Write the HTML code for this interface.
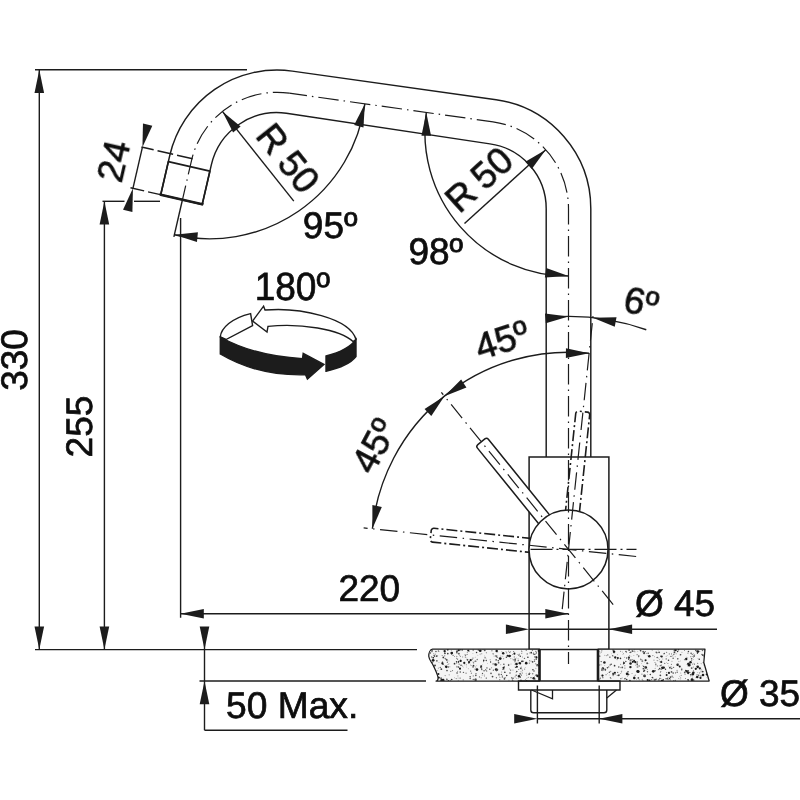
<!DOCTYPE html>
<html lang="en"><head><meta charset="utf-8"><title>Faucet dimension drawing</title>
<style>
html,body{margin:0;padding:0;background:#fff;}
body{width:800px;height:800px;overflow:hidden;font-family:"Liberation Sans",sans-serif;}
svg{display:block;}
svg text{-webkit-font-smoothing:antialiased;text-rendering:geometricPrecision;}
</style></head><body>
<svg width="800" height="800" viewBox="0 0 800 800" font-family="'Liberation Sans', sans-serif" shape-rendering="geometricPrecision">
<rect width="800" height="800" fill="#ffffff"/>
<line x1="35" y1="69.7" x2="247" y2="69.7" stroke="#1c1c1c" stroke-width="1.4" stroke-linecap="butt"/>
<line x1="39.3" y1="69.7" x2="39.3" y2="649.6" stroke="#1c1c1c" stroke-width="1.4" stroke-linecap="butt"/>
<polygon points="39.3,69.7 44.1,92.9 34.5,92.9" fill="#1c1c1c" stroke="none" stroke-width="0"/>
<polygon points="39.3,649.6 34.5,626.4 44.1,626.4" fill="#1c1c1c" stroke="none" stroke-width="0"/>
<line x1="35" y1="649.6" x2="417" y2="649.6" stroke="#1c1c1c" stroke-width="1.4" stroke-linecap="butt"/>
<line x1="102.5" y1="201.3" x2="124.5" y2="201.3" stroke="#1c1c1c" stroke-width="1.4" stroke-linecap="butt"/>
<line x1="134" y1="201.3" x2="160" y2="201.3" stroke="#1c1c1c" stroke-width="1.4" stroke-linecap="butt"/>
<line x1="104.4" y1="201.3" x2="104.4" y2="649.6" stroke="#1c1c1c" stroke-width="1.4" stroke-linecap="butt"/>
<polygon points="104.4,201.3 109.2,224.5 99.6,224.5" fill="#1c1c1c" stroke="none" stroke-width="0"/>
<polygon points="104.4,649.6 99.6,626.4 109.2,626.4" fill="#1c1c1c" stroke="none" stroke-width="0"/>
<line x1="204.5" y1="627" x2="204.5" y2="730.2" stroke="#1c1c1c" stroke-width="1.4" stroke-linecap="butt"/>
<polygon points="204.5,649.6 199.7,626.4 209.3,626.4" fill="#1c1c1c" stroke="none" stroke-width="0"/>
<polygon points="204.5,681 209.3,704.2 199.7,704.2" fill="#1c1c1c" stroke="none" stroke-width="0"/>
<line x1="199.5" y1="681" x2="426" y2="681" stroke="#1c1c1c" stroke-width="1.4" stroke-linecap="butt"/>
<line x1="204.5" y1="730.2" x2="347.5" y2="730.2" stroke="#1c1c1c" stroke-width="1.4" stroke-linecap="butt"/>
<line x1="180.6" y1="613.8" x2="568.5" y2="613.8" stroke="#1c1c1c" stroke-width="1.4" stroke-linecap="butt"/>
<polygon points="180.6,613.8 203.8,609 203.8,618.6" fill="#1c1c1c" stroke="none" stroke-width="0"/>
<polygon points="568.5,613.8 545.3,618.6 545.3,609" fill="#1c1c1c" stroke="none" stroke-width="0"/>
<path d="M160.71 194.74L169.82 155.28A110 110 0 0 1 292.31 71.1L496.11 99.74A110 110 0 0 1 590.8 208.67L590.8 457" fill="none" stroke="#1c1c1c" stroke-width="1.45" stroke-linejoin="round" />
<path d="M202.22 204.33L211.33 164.86A67.4 67.4 0 0 1 286.38 113.28L489.9 143.9A65.4 65.4 0 0 1 546.2 208.67L546.2 457" fill="none" stroke="#1c1c1c" stroke-width="1.45" stroke-linejoin="round" />
<path d="M168.36 161.61L160.71 194.74L202.22 204.33L209.87 171.2Z" fill="none" stroke="#1c1c1c" stroke-width="1.7" stroke-linejoin="round" />
<path d="M161.05 193.28L160.71 194.74L202.22 204.33L202.55 202.86" fill="none" stroke="#1c1c1c" stroke-width="2.6" stroke-linejoin="round" />
<line x1="182.44" y1="199.76" x2="173.89" y2="236.79" stroke="#1c1c1c" stroke-width="1.4" stroke-linecap="butt"/>
<line x1="180.6" y1="218" x2="180.6" y2="617.8" stroke="#1c1c1c" stroke-width="1.4" stroke-linecap="butt"/>
<line x1="192.61" y1="158.8" x2="141.46" y2="146.99" stroke="#1c1c1c" stroke-width="1.4" stroke-dasharray="16 4" stroke-linecap="butt"/>
<line x1="162.66" y1="195.19" x2="130.5" y2="187.77" stroke="#1c1c1c" stroke-width="1.4" stroke-dasharray="15 4" stroke-linecap="butt"/>
<line x1="142.43" y1="147.21" x2="132.94" y2="188.33" stroke="#1c1c1c" stroke-width="1.4" stroke-linecap="butt"/>
<polygon points="142.43,147.21 142.97,123.53 152.33,125.69" fill="#1c1c1c" stroke="none" stroke-width="0"/>
<polygon points="132.94,188.33 132.4,212.02 123.04,209.86" fill="#1c1c1c" stroke="none" stroke-width="0"/>
<line x1="222.41" y1="111.39" x2="293.81" y2="201.16" stroke="#1c1c1c" stroke-width="1.4" stroke-linecap="butt"/>
<polygon points="222.41,111.39 240.6,126.56 233.09,132.54" fill="#1c1c1c" stroke="none" stroke-width="0"/>
<line x1="545.77" y1="149.76" x2="464.5" y2="223.45" stroke="#1c1c1c" stroke-width="1.4" stroke-linecap="butt"/>
<polygon points="545.77,149.76 531.81,168.9 525.36,161.79" fill="#1c1c1c" stroke="none" stroke-width="0"/>
<path d="M364.9 103.82A156.8 156.8 0 0 1 174.35 234.78" fill="none" stroke="#1c1c1c" stroke-width="1.4" stroke-linejoin="round" />
<polygon points="364.9,103.82 363.45,127.46 354.18,124.95" fill="#1c1c1c" stroke="none" stroke-width="0"/>
<polygon points="174.35,234.78 197.92,232.34 196.95,241.89" fill="#1c1c1c" stroke="none" stroke-width="0"/>
<path d="M426.3 112.45A143.6 143.6 0 0 0 568.5 276.03" fill="none" stroke="#1c1c1c" stroke-width="1.4" stroke-linejoin="round" />
<polygon points="426.3,112.45 431.04,135.66 421.44,135.63" fill="#1c1c1c" stroke="none" stroke-width="0"/>
<polygon points="568.5,276.03 544.86,277.61 546.18,268.1" fill="#1c1c1c" stroke="none" stroke-width="0"/>
<path d="M529.1 649.6V457H608.9V649.6Z" fill="none" stroke="#1c1c1c" stroke-width="1.5" stroke-linejoin="miter" />
<path d="M532.93 538.62L433.98 528.22A2.5 2.5 0 0 0 431.23 530.45L430.29 539.4A2.5 2.5 0 0 0 432.51 542.15L531.47 552.55" fill="none" stroke="#1c1c1c" stroke-width="1.6" stroke-dasharray="11 3 2 3" stroke-linejoin="round" />
<path d="M579.28 513.83L589.68 414.88A2.5 2.5 0 0 0 587.45 412.13L578.5 411.19A2.5 2.5 0 0 0 575.75 413.41L565.35 512.37" fill="none" stroke="#1c1c1c" stroke-width="1.6" stroke-dasharray="11 3 2 3" stroke-linejoin="round" />
<path d="M550.97 516.63L488.35 439.3A2.5 2.5 0 0 0 484.84 438.93L477.84 444.6A2.5 2.5 0 0 0 477.47 448.11L540.09 525.44" fill="#fff" stroke="#1c1c1c" stroke-width="1.5" stroke-linejoin="round" />
<circle cx="568.5" cy="549.4" r="39.5" fill="#fff" stroke="#1c1c1c" stroke-width="1.5"/>
<path d="M182.44 199.76L191.55 160.3A87.7 87.7 0 0 1 289.21 93.18" fill="none" stroke="#1c1c1c" stroke-width="1.2" stroke-dasharray="20.5 5 1.5 5" stroke-linejoin="round" stroke-dashoffset="6"/>
<path d="M289.21 93.18L493.01 121.82" fill="none" stroke="#1c1c1c" stroke-width="1.2" stroke-dasharray="20.5 5 1.5 5" stroke-linejoin="round" stroke-dashoffset="2.6"/>
<path d="M493.01 121.82A87.7 87.7 0 0 1 568.5 208.67L568.5 664" fill="none" stroke="#1c1c1c" stroke-width="1.2" stroke-dasharray="20.5 5 1.5 5" stroke-linejoin="round" stroke-dashoffset="7.4"/>
<line x1="636.13" y1="556.51" x2="363.63" y2="527.87" stroke="#1c1c1c" stroke-width="1.2" stroke-dasharray="17.5 5.5 1.5 5.5" stroke-linecap="butt"/>
<line x1="613.18" y1="604.58" x2="441.38" y2="392.42" stroke="#1c1c1c" stroke-width="1.2" stroke-dasharray="17.5 5.5 1.5 5.5" stroke-linecap="butt"/>
<line x1="562.23" y1="609.07" x2="593.38" y2="312.7" stroke="#1c1c1c" stroke-width="1.2" stroke-dasharray="17.5 5.5 1.5 5.5" stroke-linecap="butt"/>
<line x1="530.5" y1="549.4" x2="636.5" y2="549.4" stroke="#1c1c1c" stroke-width="1.1" stroke-dasharray="22 4 2 4" stroke-linecap="butt"/>
<path d="M372.38 528.79A197.2 197.2 0 0 1 589.11 353.28" fill="none" stroke="#1c1c1c" stroke-width="1.4" stroke-linejoin="round" />
<polygon points="372.38,528.79 372.4,505.1 381.8,507.05" fill="#1c1c1c" stroke="none" stroke-width="0"/>
<polygon points="444.4,396.15 431.29,415.88 424.54,409.06" fill="#1c1c1c" stroke="none" stroke-width="0"/>
<polygon points="444.4,396.15 461.16,379.41 466.43,387.43" fill="#1c1c1c" stroke="none" stroke-width="0"/>
<polygon points="589.11,353.28 565.89,357.97 565.94,348.37" fill="#1c1c1c" stroke="none" stroke-width="0"/>
<path d="M547.38 317.36A233 233 0 0 1 646.28 329.76" fill="none" stroke="#1c1c1c" stroke-width="1.4" stroke-linejoin="round" />
<polygon points="568.5,316.4 545.79,323.14 544.98,313.58" fill="#1c1c1c" stroke="none" stroke-width="0"/>
<polygon points="592.86,317.68 616.54,317.33 614.74,326.76" fill="#1c1c1c" stroke="none" stroke-width="0"/>
<line x1="529.1" y1="629.3" x2="717" y2="629.3" stroke="#1c1c1c" stroke-width="1.4" stroke-linecap="butt"/>
<polygon points="529.1,629.3 505.9,634.1 505.9,624.5" fill="#1c1c1c" stroke="none" stroke-width="0"/>
<polygon points="608.9,629.3 632.1,624.5 632.1,634.1" fill="#1c1c1c" stroke="none" stroke-width="0"/>
<clipPath id="cl"><path d="M539.5 649.2H432.6C430 649.5 428.6 653 428.8 656.5C429.2 660 431.5 662 433 665C435 669 437.5 674 438 677.5C438.2 679.5 437.5 681 436 681H539.5Z"/></clipPath><clipPath id="cr"><path d="M598.0 649.2H705L703.8 662.5L709.2 681H598.0Z"/></clipPath>
<path d="M539.5 649.2H432.6C430 649.5 428.6 653 428.8 656.5C429.2 660 431.5 662 433 665C435 669 437.5 674 438 677.5C438.2 679.5 437.5 681 436 681H539.5Z" fill="#f5f5f5"/><path d="M598.0 649.2H705L703.8 662.5L709.2 681H598.0Z" fill="#f5f5f5"/>
<g clip-path="url(#cl)" fill="#1c1c1c"><circle cx="464.78" cy="654.34" r="0.42" fill="#777"/><circle cx="469.41" cy="651.42" r="0.41" fill="#666"/><circle cx="475.21" cy="657.16" r="0.42" fill="#777"/><circle cx="533.69" cy="669.4" r="0.42" fill="#666"/><circle cx="434.48" cy="656.54" r="0.44" fill="#666"/><circle cx="444.94" cy="653.3" r="0.84" fill="#333"/><circle cx="440.39" cy="667.54" r="0.63" fill="#444"/><circle cx="435.94" cy="651.47" r="0.8" fill="#555"/><circle cx="514.88" cy="664.22" r="0.51" fill="#999"/><circle cx="516.78" cy="671.55" r="0.77" fill="#444"/><circle cx="483.71" cy="660.39" r="0.78" fill="#333"/><circle cx="442.05" cy="662.73" r="0.45" fill="#666"/><circle cx="475.6" cy="679.81" r="1.22" fill="#1a1a1a"/><circle cx="516.19" cy="675.3" r="0.71" fill="#555"/><circle cx="493.08" cy="663.92" r="0.68" fill="#666"/><circle cx="506.02" cy="651.64" r="0.49" fill="#666"/><circle cx="460.45" cy="661.71" r="0.41" fill="#666"/><circle cx="468.28" cy="668.78" r="0.47" fill="#888"/><circle cx="443.29" cy="657.38" r="0.86" fill="#333"/><circle cx="447.38" cy="662.21" r="0.64" fill="#555"/><circle cx="524.47" cy="658.34" r="0.71" fill="#555"/><circle cx="534.83" cy="654.34" r="0.67" fill="#333"/><circle cx="430.33" cy="675.7" r="0.68" fill="#333"/><circle cx="475.29" cy="661.19" r="0.69" fill="#777"/><circle cx="479.46" cy="676.95" r="0.6" fill="#666"/><circle cx="472.99" cy="661.98" r="0.52" fill="#999"/><circle cx="436.44" cy="656.16" r="0.7" fill="#333"/><circle cx="440.31" cy="667.4" r="0.68" fill="#777"/><circle cx="436.77" cy="656.13" r="0.79" fill="#555"/><circle cx="495.55" cy="664.49" r="1.2" fill="#1a1a1a"/><circle cx="537.05" cy="664.68" r="0.64" fill="#444"/><circle cx="466.86" cy="657.91" r="0.45" fill="#777"/><circle cx="451.68" cy="679.49" r="0.81" fill="#333"/><circle cx="512.77" cy="658.96" r="0.43" fill="#888"/><circle cx="486.28" cy="678.12" r="0.67" fill="#444"/><circle cx="515.09" cy="659.95" r="0.84" fill="#333"/><circle cx="518.07" cy="675.3" r="0.47" fill="#666"/><circle cx="468.29" cy="650.51" r="1.11" fill="#1a1a1a"/><circle cx="457.64" cy="671.35" r="0.53" fill="#888"/><circle cx="534.53" cy="661.05" r="0.67" fill="#333"/><circle cx="466.32" cy="664.76" r="0.58" fill="#777"/><circle cx="481.98" cy="670.1" r="0.43" fill="#777"/><circle cx="529.53" cy="674.16" r="0.54" fill="#999"/><circle cx="476.95" cy="669.57" r="1.38" fill="#1a1a1a"/><circle cx="508.76" cy="664.14" r="0.43" fill="#999"/><circle cx="447.79" cy="653.59" r="0.87" fill="#444"/><circle cx="445.15" cy="675.55" r="0.6" fill="#888"/><circle cx="446.23" cy="666.82" r="1.32" fill="#1a1a1a"/><circle cx="509.26" cy="652.83" r="0.44" fill="#999"/><circle cx="520.29" cy="656.23" r="0.69" fill="#333"/><circle cx="513.39" cy="659.84" r="0.65" fill="#777"/><circle cx="529.56" cy="660.71" r="0.58" fill="#666"/><circle cx="520.4" cy="677.17" r="0.65" fill="#444"/><circle cx="431.07" cy="663.42" r="0.6" fill="#333"/><circle cx="448.04" cy="664.47" r="0.57" fill="#888"/><circle cx="504.4" cy="666.26" r="0.63" fill="#777"/><circle cx="456.46" cy="658.3" r="0.55" fill="#777"/><circle cx="512.98" cy="678.25" r="0.78" fill="#444"/><circle cx="495.98" cy="655.86" r="0.75" fill="#555"/><circle cx="485.11" cy="657.38" r="0.66" fill="#888"/><circle cx="530.97" cy="677.63" r="0.73" fill="#555"/><circle cx="442.44" cy="663.48" r="1.1" fill="#1a1a1a"/><circle cx="437.08" cy="670.62" r="0.67" fill="#999"/><circle cx="532.82" cy="669.8" r="0.68" fill="#333"/><circle cx="535.91" cy="656.5" r="0.52" fill="#666"/><circle cx="446.99" cy="670.57" r="0.81" fill="#444"/><circle cx="473.62" cy="662.83" r="0.63" fill="#555"/><circle cx="431.15" cy="667" r="0.61" fill="#555"/><circle cx="486.18" cy="658.88" r="0.43" fill="#999"/><circle cx="536.37" cy="652.89" r="0.61" fill="#333"/><circle cx="458.88" cy="653.67" r="0.87" fill="#555"/><circle cx="473.86" cy="666.45" r="0.55" fill="#888"/><circle cx="438.89" cy="651.41" r="0.53" fill="#777"/><circle cx="458.72" cy="650.13" r="1.1" fill="#1a1a1a"/><circle cx="496.2" cy="656.58" r="0.64" fill="#333"/><circle cx="466.48" cy="666.97" r="0.48" fill="#999"/><circle cx="433.77" cy="671.88" r="0.69" fill="#888"/><circle cx="434.57" cy="655.94" r="0.69" fill="#333"/><circle cx="461.04" cy="665.3" r="0.7" fill="#333"/><circle cx="538.89" cy="650.76" r="1.2" fill="#1a1a1a"/><circle cx="537.07" cy="665.75" r="0.73" fill="#444"/><circle cx="519.49" cy="663.17" r="0.65" fill="#666"/><circle cx="536.22" cy="659.26" r="0.67" fill="#333"/><circle cx="520.97" cy="671.79" r="0.52" fill="#888"/><circle cx="537.5" cy="675.88" r="1.25" fill="#1a1a1a"/><circle cx="526.22" cy="663.13" r="1.27" fill="#1a1a1a"/><circle cx="471.09" cy="665.49" r="0.58" fill="#888"/><circle cx="434" cy="655.42" r="0.6" fill="#555"/><circle cx="535.28" cy="680.14" r="0.47" fill="#888"/><circle cx="453.07" cy="655.34" r="0.63" fill="#555"/><circle cx="484.56" cy="655.91" r="0.4" fill="#888"/><circle cx="519.28" cy="654.12" r="0.52" fill="#888"/><circle cx="462.62" cy="656.91" r="0.56" fill="#999"/><circle cx="501.66" cy="672.08" r="0.52" fill="#888"/><circle cx="508.63" cy="665.12" r="0.79" fill="#333"/><circle cx="433.84" cy="675.83" r="0.59" fill="#999"/><circle cx="529.54" cy="673.24" r="0.64" fill="#777"/><circle cx="520.32" cy="667.94" r="0.6" fill="#999"/><circle cx="438.4" cy="650.91" r="0.69" fill="#666"/><circle cx="521.36" cy="667.14" r="0.59" fill="#999"/><circle cx="483.07" cy="649.7" r="0.62" fill="#777"/><circle cx="501.85" cy="651.67" r="0.48" fill="#777"/><circle cx="522.5" cy="656.97" r="0.47" fill="#666"/><circle cx="483.58" cy="661.61" r="0.61" fill="#777"/><circle cx="497.18" cy="669.78" r="1.06" fill="#1a1a1a"/><circle cx="457.06" cy="672.94" r="0.77" fill="#333"/><circle cx="482.31" cy="664.85" r="0.43" fill="#999"/><circle cx="503.67" cy="658.73" r="0.54" fill="#666"/><circle cx="513.77" cy="680.79" r="0.49" fill="#777"/><circle cx="532.46" cy="650.15" r="0.65" fill="#666"/><circle cx="538.83" cy="661.75" r="0.68" fill="#777"/><circle cx="493.25" cy="654.05" r="0.69" fill="#999"/><circle cx="495.67" cy="669.43" r="0.63" fill="#555"/><circle cx="454.57" cy="677.79" r="0.41" fill="#777"/><circle cx="533.97" cy="671" r="0.82" fill="#555"/><circle cx="467.01" cy="659.52" r="0.4" fill="#888"/><circle cx="521.72" cy="653.37" r="0.61" fill="#888"/><circle cx="456.98" cy="651.64" r="0.86" fill="#333"/><circle cx="468.86" cy="663.04" r="0.61" fill="#333"/><circle cx="434.7" cy="670.39" r="0.44" fill="#888"/><circle cx="477.2" cy="659.51" r="0.64" fill="#666"/><circle cx="526.71" cy="675.1" r="0.67" fill="#999"/><circle cx="508.51" cy="651.15" r="0.54" fill="#999"/><circle cx="500.22" cy="658.59" r="1.37" fill="#1a1a1a"/><circle cx="443.07" cy="664.43" r="0.69" fill="#444"/><circle cx="510.63" cy="670.1" r="0.67" fill="#555"/><circle cx="490.58" cy="661.98" r="0.65" fill="#333"/><circle cx="484.32" cy="675.09" r="0.54" fill="#888"/><circle cx="539.11" cy="663.73" r="0.66" fill="#333"/><circle cx="448.3" cy="667.05" r="0.71" fill="#444"/><circle cx="451.34" cy="650.23" r="0.51" fill="#999"/><circle cx="470.64" cy="660.22" r="1.11" fill="#1a1a1a"/><circle cx="535.93" cy="653.55" r="0.59" fill="#999"/><circle cx="439.23" cy="677.76" r="0.79" fill="#555"/><circle cx="534.41" cy="676.25" r="0.41" fill="#777"/><circle cx="475.98" cy="673.58" r="0.69" fill="#666"/><circle cx="429.02" cy="661.89" r="0.65" fill="#666"/><circle cx="536.43" cy="657.4" r="1.06" fill="#1a1a1a"/><circle cx="486.72" cy="671.02" r="0.62" fill="#666"/><circle cx="438.39" cy="673.99" r="1.05" fill="#1a1a1a"/><circle cx="491.92" cy="650.78" r="0.69" fill="#888"/><circle cx="487.37" cy="663.34" r="0.43" fill="#888"/><circle cx="486.95" cy="667.9" r="0.67" fill="#444"/><circle cx="429.13" cy="666.48" r="0.48" fill="#888"/><circle cx="500.23" cy="677.35" r="0.47" fill="#999"/><circle cx="432.24" cy="662.53" r="0.42" fill="#999"/><circle cx="484.06" cy="670.78" r="0.68" fill="#444"/><circle cx="475.89" cy="661.22" r="0.61" fill="#666"/><circle cx="469.04" cy="662.05" r="1.12" fill="#1a1a1a"/><circle cx="522.39" cy="651.72" r="0.46" fill="#999"/><circle cx="454.5" cy="656.55" r="0.49" fill="#666"/><circle cx="496.42" cy="677.75" r="0.67" fill="#777"/><circle cx="533.84" cy="654.2" r="0.66" fill="#444"/><circle cx="444.68" cy="651.23" r="1.16" fill="#1a1a1a"/><circle cx="528.25" cy="677.34" r="0.7" fill="#999"/><circle cx="465.38" cy="655.43" r="0.62" fill="#777"/><circle cx="463.46" cy="672.38" r="0.7" fill="#666"/><circle cx="447.7" cy="649.69" r="0.71" fill="#333"/><circle cx="491" cy="673.43" r="0.83" fill="#555"/><circle cx="519.83" cy="663.18" r="1.19" fill="#1a1a1a"/><circle cx="470.18" cy="678.47" r="0.71" fill="#555"/><circle cx="432.35" cy="662.5" r="0.63" fill="#777"/><circle cx="470.5" cy="664.17" r="0.42" fill="#999"/><circle cx="511.58" cy="677.81" r="0.68" fill="#444"/><circle cx="433.82" cy="673.04" r="0.68" fill="#888"/><circle cx="429.42" cy="673.33" r="0.59" fill="#777"/><circle cx="431.68" cy="656.94" r="0.69" fill="#666"/><circle cx="516.27" cy="678.29" r="0.44" fill="#666"/><circle cx="449.21" cy="674.8" r="0.65" fill="#999"/><circle cx="496.1" cy="659.89" r="0.71" fill="#444"/><circle cx="437.73" cy="655.8" r="0.47" fill="#777"/><circle cx="500.77" cy="664.73" r="0.45" fill="#666"/><circle cx="526.62" cy="680.62" r="0.63" fill="#333"/><circle cx="475.53" cy="680.64" r="0.45" fill="#999"/><circle cx="475.06" cy="669.08" r="0.62" fill="#777"/><circle cx="515.16" cy="658.83" r="0.68" fill="#555"/><circle cx="510.56" cy="655.85" r="0.67" fill="#333"/><circle cx="460.09" cy="678.1" r="0.62" fill="#555"/><circle cx="538.67" cy="665.53" r="0.84" fill="#444"/><circle cx="480.26" cy="650.76" r="1.35" fill="#1a1a1a"/><circle cx="454.54" cy="663.68" r="0.86" fill="#333"/><circle cx="442.17" cy="655.55" r="0.57" fill="#777"/><circle cx="470.13" cy="676.8" r="0.68" fill="#444"/><circle cx="533.5" cy="652.92" r="0.59" fill="#999"/><circle cx="433.14" cy="660.28" r="1.4" fill="#1a1a1a"/><circle cx="433.23" cy="672.59" r="0.64" fill="#888"/><circle cx="474.19" cy="661.27" r="0.42" fill="#777"/><circle cx="516.88" cy="666.81" r="1.04" fill="#1a1a1a"/><circle cx="472.68" cy="666.87" r="0.43" fill="#999"/><circle cx="472.95" cy="658.11" r="0.6" fill="#666"/><circle cx="534.33" cy="659.41" r="0.51" fill="#666"/><circle cx="431.01" cy="673.67" r="0.59" fill="#666"/><circle cx="509.45" cy="656" r="1.36" fill="#1a1a1a"/><circle cx="475.82" cy="675.36" r="0.86" fill="#555"/><circle cx="514.42" cy="653.68" r="1.06" fill="#1a1a1a"/><circle cx="518.11" cy="662.06" r="0.68" fill="#999"/><circle cx="445.12" cy="658.5" r="0.68" fill="#777"/><circle cx="471.4" cy="673.26" r="0.64" fill="#888"/><circle cx="442.99" cy="679.21" r="0.54" fill="#777"/><circle cx="496.14" cy="669.58" r="1.28" fill="#1a1a1a"/><circle cx="505.05" cy="677.58" r="0.66" fill="#666"/><circle cx="496.93" cy="655.76" r="0.57" fill="#777"/><circle cx="473.17" cy="665.86" r="0.64" fill="#333"/><circle cx="536.26" cy="675.21" r="0.87" fill="#444"/><circle cx="433.21" cy="675.92" r="1.24" fill="#1a1a1a"/><circle cx="489.78" cy="669.29" r="0.73" fill="#444"/><circle cx="456.54" cy="661.82" r="0.75" fill="#333"/><circle cx="431.58" cy="669.03" r="0.47" fill="#666"/><circle cx="521.44" cy="675.05" r="0.62" fill="#555"/><circle cx="476.58" cy="652.48" r="0.75" fill="#333"/><circle cx="433.49" cy="653.69" r="0.49" fill="#777"/><circle cx="435" cy="665.42" r="0.89" fill="#333"/><circle cx="431.86" cy="651.68" r="0.61" fill="#777"/><circle cx="450.4" cy="680.43" r="0.69" fill="#999"/><circle cx="504.82" cy="672.24" r="0.85" fill="#444"/><circle cx="512.56" cy="654.59" r="0.48" fill="#666"/><circle cx="444.86" cy="665.37" r="0.46" fill="#888"/><circle cx="497.05" cy="657.05" r="0.66" fill="#555"/><circle cx="446.82" cy="679" r="0.67" fill="#999"/><circle cx="516.53" cy="657.9" r="0.41" fill="#888"/><circle cx="535.76" cy="663.83" r="0.61" fill="#777"/><circle cx="456.85" cy="666.42" r="0.62" fill="#888"/><circle cx="458.26" cy="680.7" r="0.51" fill="#777"/><circle cx="477.87" cy="655.15" r="0.41" fill="#888"/><circle cx="463.26" cy="679.93" r="0.68" fill="#888"/><circle cx="510" cy="673.06" r="0.69" fill="#444"/><circle cx="476.76" cy="665.7" r="0.44" fill="#999"/><circle cx="496.68" cy="651.03" r="1.23" fill="#1a1a1a"/><circle cx="462.56" cy="666.02" r="0.52" fill="#888"/><circle cx="494.09" cy="656.01" r="0.54" fill="#999"/><circle cx="430.56" cy="674.77" r="0.54" fill="#777"/><circle cx="499.52" cy="676.96" r="0.52" fill="#888"/><circle cx="535.87" cy="651.36" r="0.67" fill="#666"/><circle cx="495.51" cy="665.85" r="0.45" fill="#777"/><circle cx="433.86" cy="666.29" r="0.67" fill="#333"/><circle cx="529.75" cy="652.89" r="0.6" fill="#999"/><circle cx="444.72" cy="655.86" r="0.55" fill="#666"/><circle cx="518.88" cy="655.08" r="0.69" fill="#333"/><circle cx="538.84" cy="672.34" r="0.56" fill="#666"/><circle cx="522.31" cy="673" r="0.62" fill="#666"/><circle cx="448.38" cy="680.89" r="0.79" fill="#333"/><circle cx="466.07" cy="673.14" r="0.65" fill="#777"/><circle cx="458.39" cy="666.99" r="0.84" fill="#444"/><circle cx="536.39" cy="658.88" r="0.67" fill="#777"/><circle cx="526.24" cy="650.08" r="0.67" fill="#444"/><circle cx="451.41" cy="654.6" r="0.46" fill="#666"/><circle cx="465.31" cy="657.11" r="0.59" fill="#666"/><circle cx="481.17" cy="666.26" r="1.01" fill="#1a1a1a"/><circle cx="534.6" cy="656.94" r="0.64" fill="#666"/><circle cx="497.8" cy="652.04" r="0.44" fill="#777"/><circle cx="441.36" cy="669.13" r="0.89" fill="#444"/><circle cx="432.17" cy="650.91" r="0.59" fill="#777"/><circle cx="510.41" cy="651.67" r="0.51" fill="#777"/><circle cx="526.21" cy="673.33" r="0.52" fill="#999"/><circle cx="451.73" cy="653.12" r="1.34" fill="#1a1a1a"/><circle cx="518.73" cy="669.51" r="0.59" fill="#888"/><circle cx="481.72" cy="653.77" r="0.59" fill="#888"/><circle cx="464.26" cy="662.91" r="1.1" fill="#1a1a1a"/><circle cx="460.23" cy="672.07" r="0.7" fill="#444"/><circle cx="484.66" cy="676.33" r="0.41" fill="#666"/><circle cx="432.45" cy="665.88" r="1.19" fill="#1a1a1a"/><circle cx="434.32" cy="667.38" r="0.65" fill="#888"/><circle cx="447.83" cy="649.64" r="0.83" fill="#333"/><circle cx="429.48" cy="665.01" r="0.64" fill="#999"/><circle cx="535.87" cy="668.21" r="0.55" fill="#999"/><circle cx="460.35" cy="656.34" r="0.55" fill="#777"/><circle cx="532.73" cy="673.68" r="0.7" fill="#777"/><circle cx="498.39" cy="660.77" r="0.72" fill="#444"/><circle cx="438.52" cy="677.5" r="1.08" fill="#1a1a1a"/><circle cx="458.08" cy="677.9" r="0.51" fill="#999"/><circle cx="533.3" cy="653.58" r="0.61" fill="#777"/><circle cx="467.51" cy="659.86" r="0.85" fill="#444"/><circle cx="490.19" cy="659.75" r="0.61" fill="#888"/><circle cx="493" cy="653.56" r="0.67" fill="#999"/><circle cx="485.1" cy="658" r="0.65" fill="#999"/><circle cx="508.93" cy="680.21" r="0.58" fill="#888"/><circle cx="446.78" cy="659.9" r="0.89" fill="#444"/><circle cx="538.94" cy="654.77" r="0.46" fill="#999"/><circle cx="537.71" cy="674.56" r="0.53" fill="#999"/><circle cx="441.08" cy="678.22" r="0.87" fill="#555"/><circle cx="432.75" cy="662.13" r="0.61" fill="#888"/><circle cx="480.19" cy="654.05" r="0.52" fill="#999"/><circle cx="529.33" cy="663.1" r="0.62" fill="#666"/><circle cx="522.48" cy="670.57" r="0.66" fill="#999"/><circle cx="504.1" cy="669.74" r="0.49" fill="#777"/><circle cx="527.87" cy="657.21" r="0.81" fill="#333"/><circle cx="456.63" cy="662.9" r="0.59" fill="#666"/><circle cx="486.27" cy="670.36" r="0.67" fill="#888"/><circle cx="514.99" cy="661.81" r="0.69" fill="#777"/><circle cx="456.76" cy="656.44" r="0.69" fill="#999"/><circle cx="486.37" cy="652.77" r="0.56" fill="#666"/><circle cx="485.6" cy="669.67" r="0.56" fill="#666"/><circle cx="511" cy="663.95" r="0.46" fill="#777"/><circle cx="509.57" cy="668.88" r="0.48" fill="#666"/><circle cx="473.17" cy="650.02" r="0.73" fill="#444"/><circle cx="503.57" cy="667.82" r="1.12" fill="#1a1a1a"/><circle cx="473.25" cy="679.54" r="0.7" fill="#666"/><circle cx="480.06" cy="654.77" r="0.42" fill="#999"/><circle cx="480.84" cy="667.25" r="0.89" fill="#555"/><circle cx="502.6" cy="675.68" r="0.52" fill="#888"/><circle cx="512.97" cy="670" r="0.54" fill="#999"/><circle cx="458.55" cy="661.41" r="0.73" fill="#333"/><circle cx="482.21" cy="674.89" r="0.51" fill="#888"/><circle cx="464.4" cy="664.83" r="0.43" fill="#888"/><circle cx="445.88" cy="659.12" r="0.63" fill="#444"/><circle cx="529.09" cy="674.22" r="0.85" fill="#444"/><circle cx="493.36" cy="670.24" r="0.62" fill="#555"/><circle cx="456.63" cy="652.79" r="0.67" fill="#555"/><circle cx="467.28" cy="654.39" r="0.64" fill="#999"/><circle cx="496.35" cy="671.2" r="0.43" fill="#888"/><circle cx="450.81" cy="671.35" r="0.62" fill="#666"/><circle cx="503.17" cy="653.27" r="1.17" fill="#1a1a1a"/><circle cx="520.39" cy="664.46" r="0.55" fill="#999"/><circle cx="506.4" cy="657.34" r="0.78" fill="#444"/><circle cx="429.73" cy="676" r="0.57" fill="#888"/><circle cx="521.88" cy="661.37" r="0.89" fill="#333"/><circle cx="448.95" cy="660.92" r="0.41" fill="#777"/><circle cx="504.43" cy="678.85" r="0.89" fill="#444"/><circle cx="482.5" cy="673.38" r="0.66" fill="#555"/><circle cx="498.09" cy="660.23" r="0.51" fill="#666"/><circle cx="515.03" cy="667" r="0.49" fill="#888"/><circle cx="475.67" cy="667" r="0.49" fill="#666"/><circle cx="473.61" cy="665.42" r="0.75" fill="#333"/><circle cx="501.33" cy="674.47" r="0.7" fill="#555"/><circle cx="443.1" cy="680.14" r="1.4" fill="#1a1a1a"/><circle cx="473.08" cy="667" r="0.77" fill="#555"/><circle cx="462.19" cy="649.8" r="0.88" fill="#444"/><circle cx="513.64" cy="651.49" r="0.56" fill="#666"/><circle cx="497.15" cy="669.28" r="0.58" fill="#777"/><circle cx="452.48" cy="670.54" r="0.63" fill="#777"/><circle cx="502.33" cy="676.89" r="0.63" fill="#444"/><circle cx="430.48" cy="676.98" r="0.69" fill="#444"/><circle cx="457.51" cy="659.08" r="0.7" fill="#555"/><circle cx="491.58" cy="667.76" r="0.55" fill="#777"/><circle cx="520.14" cy="673.9" r="0.81" fill="#555"/><circle cx="478.34" cy="650.04" r="0.78" fill="#444"/><circle cx="537.38" cy="664.53" r="0.63" fill="#444"/><circle cx="481.18" cy="677.73" r="0.53" fill="#777"/><circle cx="504.56" cy="653.42" r="0.43" fill="#777"/><circle cx="443.25" cy="650.16" r="0.47" fill="#999"/><circle cx="530.97" cy="661.09" r="0.61" fill="#999"/><circle cx="509.63" cy="652.25" r="0.61" fill="#666"/><circle cx="502.98" cy="677.55" r="0.42" fill="#777"/><circle cx="430.26" cy="650.06" r="0.65" fill="#777"/><circle cx="471.98" cy="659.41" r="0.69" fill="#666"/><circle cx="496.29" cy="659.53" r="0.62" fill="#666"/><circle cx="503.8" cy="654.15" r="0.51" fill="#999"/><circle cx="498.58" cy="662.72" r="0.84" fill="#555"/><circle cx="515.7" cy="667.4" r="0.62" fill="#444"/><circle cx="506.71" cy="675.58" r="0.78" fill="#333"/><circle cx="520.86" cy="668.48" r="0.73" fill="#333"/><circle cx="470.62" cy="671.1" r="0.67" fill="#666"/><circle cx="460.31" cy="649.65" r="0.73" fill="#444"/><circle cx="530.73" cy="673.57" r="0.49" fill="#999"/><circle cx="518.7" cy="676.83" r="0.48" fill="#666"/><circle cx="467.33" cy="652.27" r="0.64" fill="#999"/><circle cx="516.04" cy="672.28" r="0.49" fill="#777"/><circle cx="503.88" cy="664.21" r="0.68" fill="#333"/><circle cx="516.48" cy="664.04" r="1.32" fill="#1a1a1a"/><circle cx="514.32" cy="656.91" r="0.67" fill="#888"/><circle cx="481.66" cy="668.1" r="0.66" fill="#333"/><circle cx="518.05" cy="658.7" r="0.51" fill="#999"/><circle cx="456.22" cy="678.57" r="0.66" fill="#888"/><circle cx="498.92" cy="674.32" r="0.78" fill="#555"/><circle cx="460" cy="668.66" r="1.08" fill="#1a1a1a"/><circle cx="525.22" cy="667.36" r="0.46" fill="#888"/><circle cx="476.07" cy="679.32" r="0.65" fill="#999"/><circle cx="457.07" cy="650.79" r="0.65" fill="#333"/><circle cx="432.04" cy="650.69" r="0.81" fill="#555"/><circle cx="533.67" cy="678.17" r="1.24" fill="#1a1a1a"/><circle cx="472.91" cy="653.37" r="0.48" fill="#999"/><circle cx="499.79" cy="679.63" r="0.52" fill="#666"/><circle cx="522.89" cy="661.25" r="0.82" fill="#333"/><circle cx="433.27" cy="657.63" r="0.87" fill="#333"/><circle cx="521.51" cy="651.08" r="0.61" fill="#666"/><circle cx="435.16" cy="654.15" r="0.68" fill="#888"/><circle cx="494.17" cy="663.46" r="0.54" fill="#888"/><circle cx="457.4" cy="653.5" r="0.45" fill="#999"/><circle cx="518.23" cy="678.31" r="0.54" fill="#999"/><circle cx="517.27" cy="654.53" r="0.42" fill="#888"/><circle cx="527.2" cy="653.99" r="0.63" fill="#555"/><circle cx="522.07" cy="669.33" r="0.5" fill="#999"/><circle cx="481.77" cy="669.32" r="0.67" fill="#333"/><circle cx="448.92" cy="663.77" r="0.53" fill="#999"/><circle cx="458.44" cy="662.53" r="0.68" fill="#555"/><circle cx="465.96" cy="654.87" r="0.5" fill="#666"/><circle cx="441.62" cy="680.33" r="1.36" fill="#1a1a1a"/><circle cx="502.84" cy="656.23" r="0.49" fill="#888"/><circle cx="512.41" cy="680.08" r="0.68" fill="#333"/><circle cx="531.22" cy="652.66" r="0.87" fill="#333"/><circle cx="520.97" cy="680.33" r="0.79" fill="#555"/><circle cx="518.18" cy="660.3" r="0.6" fill="#444"/><circle cx="460.65" cy="660.91" r="1.16" fill="#1a1a1a"/><circle cx="459.59" cy="655.27" r="0.56" fill="#999"/><circle cx="507.63" cy="655.78" r="1.03" fill="#1a1a1a"/><circle cx="496.25" cy="665.16" r="0.66" fill="#444"/><circle cx="503.02" cy="669.33" r="0.69" fill="#333"/><circle cx="436.26" cy="672.61" r="0.82" fill="#333"/><circle cx="486.29" cy="660.52" r="0.79" fill="#555"/><circle cx="438.98" cy="662.46" r="0.44" fill="#888"/><circle cx="456.44" cy="667.28" r="0.41" fill="#888"/><circle cx="492.53" cy="676.54" r="0.88" fill="#444"/><circle cx="436.88" cy="660.8" r="0.85" fill="#555"/><circle cx="515.09" cy="676.86" r="0.67" fill="#888"/><circle cx="525.44" cy="679.56" r="0.55" fill="#999"/><circle cx="431.29" cy="679.98" r="0.65" fill="#333"/><circle cx="463.47" cy="667.04" r="0.41" fill="#999"/><circle cx="457.89" cy="675.89" r="0.54" fill="#999"/><circle cx="506.64" cy="652.83" r="0.62" fill="#777"/><circle cx="459.17" cy="664.2" r="0.63" fill="#777"/><circle cx="442.49" cy="662.34" r="0.78" fill="#333"/><circle cx="445.27" cy="667.59" r="0.45" fill="#777"/><circle cx="532.6" cy="661.81" r="0.85" fill="#444"/><circle cx="433" cy="680.07" r="1.15" fill="#1a1a1a"/><circle cx="473.28" cy="675.93" r="0.65" fill="#888"/><circle cx="519.06" cy="676.22" r="1.21" fill="#1a1a1a"/><circle cx="534.84" cy="678.94" r="0.73" fill="#444"/><circle cx="430.28" cy="653.02" r="0.7" fill="#333"/><circle cx="484.78" cy="650.25" r="0.89" fill="#555"/><circle cx="498.97" cy="675.01" r="0.67" fill="#777"/><circle cx="524.65" cy="669.1" r="0.59" fill="#777"/><circle cx="497.65" cy="657.47" r="0.53" fill="#777"/><circle cx="460.77" cy="659.19" r="0.44" fill="#888"/><circle cx="438.33" cy="668.13" r="0.53" fill="#999"/><circle cx="526.81" cy="678.35" r="0.48" fill="#777"/><circle cx="510.81" cy="658.62" r="0.61" fill="#999"/><circle cx="500.86" cy="655.92" r="0.54" fill="#888"/><circle cx="496.71" cy="664.33" r="0.67" fill="#333"/><circle cx="449.86" cy="666.74" r="0.52" fill="#888"/><circle cx="446.93" cy="679.5" r="0.7" fill="#555"/></g>
<g clip-path="url(#cr)" fill="#1c1c1c"><circle cx="629.9" cy="680.61" r="0.83" fill="#333"/><circle cx="659.73" cy="668.63" r="0.8" fill="#444"/><circle cx="641.44" cy="663.41" r="0.43" fill="#999"/><circle cx="708.8" cy="670.88" r="0.53" fill="#888"/><circle cx="613.72" cy="655.96" r="0.48" fill="#777"/><circle cx="680.74" cy="672.94" r="0.54" fill="#999"/><circle cx="644.26" cy="652.85" r="0.76" fill="#333"/><circle cx="653.76" cy="679.83" r="0.53" fill="#888"/><circle cx="695.75" cy="668.67" r="0.74" fill="#555"/><circle cx="630.26" cy="660.67" r="0.76" fill="#444"/><circle cx="641.06" cy="659.71" r="0.65" fill="#666"/><circle cx="640.64" cy="659.02" r="0.64" fill="#666"/><circle cx="662.45" cy="667.86" r="1.37" fill="#1a1a1a"/><circle cx="634.27" cy="676.08" r="0.69" fill="#999"/><circle cx="706.88" cy="677.59" r="0.41" fill="#888"/><circle cx="661.27" cy="665.22" r="0.63" fill="#666"/><circle cx="655.95" cy="665.84" r="0.52" fill="#888"/><circle cx="602.56" cy="670.83" r="0.4" fill="#777"/><circle cx="656.83" cy="652.71" r="0.72" fill="#444"/><circle cx="701.98" cy="654.44" r="0.73" fill="#555"/><circle cx="647.3" cy="669.21" r="0.5" fill="#777"/><circle cx="617.12" cy="659.59" r="0.65" fill="#999"/><circle cx="610.38" cy="677.69" r="0.65" fill="#666"/><circle cx="668.68" cy="666.06" r="0.46" fill="#999"/><circle cx="644.17" cy="651.49" r="0.43" fill="#777"/><circle cx="675.47" cy="649.94" r="1.28" fill="#1a1a1a"/><circle cx="659.93" cy="678.39" r="0.63" fill="#333"/><circle cx="672.83" cy="655.77" r="0.57" fill="#888"/><circle cx="695.57" cy="677.72" r="0.44" fill="#999"/><circle cx="644.04" cy="653.42" r="0.83" fill="#333"/><circle cx="601.25" cy="651.99" r="0.55" fill="#666"/><circle cx="666.66" cy="674.93" r="1" fill="#1a1a1a"/><circle cx="684.31" cy="659.74" r="0.51" fill="#999"/><circle cx="601.68" cy="669.34" r="0.68" fill="#777"/><circle cx="637.08" cy="663.72" r="0.62" fill="#555"/><circle cx="663.26" cy="679.73" r="0.79" fill="#333"/><circle cx="622.96" cy="654.61" r="0.45" fill="#777"/><circle cx="698.67" cy="675.22" r="0.78" fill="#555"/><circle cx="707.71" cy="651.72" r="0.6" fill="#999"/><circle cx="644.31" cy="662.12" r="0.41" fill="#999"/><circle cx="607.8" cy="654.94" r="0.6" fill="#555"/><circle cx="642.36" cy="661" r="0.86" fill="#555"/><circle cx="643.16" cy="651.66" r="0.85" fill="#555"/><circle cx="660.03" cy="661.76" r="0.5" fill="#666"/><circle cx="601.91" cy="670.46" r="0.65" fill="#444"/><circle cx="612.54" cy="655.76" r="0.64" fill="#666"/><circle cx="650.31" cy="674.56" r="0.71" fill="#333"/><circle cx="678.92" cy="661.43" r="0.46" fill="#666"/><circle cx="654.54" cy="656.74" r="0.44" fill="#888"/><circle cx="664.75" cy="663.43" r="0.56" fill="#666"/><circle cx="666.12" cy="656.27" r="0.44" fill="#777"/><circle cx="658.77" cy="658.09" r="0.52" fill="#999"/><circle cx="632.81" cy="661.84" r="1.07" fill="#1a1a1a"/><circle cx="693.31" cy="659.68" r="0.43" fill="#888"/><circle cx="688.18" cy="673.42" r="0.82" fill="#333"/><circle cx="623.36" cy="653.56" r="0.48" fill="#666"/><circle cx="692.57" cy="664.18" r="0.59" fill="#999"/><circle cx="702.91" cy="655.14" r="0.84" fill="#444"/><circle cx="637.36" cy="662.55" r="0.61" fill="#999"/><circle cx="709.99" cy="662.18" r="0.43" fill="#888"/><circle cx="610.91" cy="678.26" r="0.61" fill="#777"/><circle cx="643.32" cy="668.71" r="0.83" fill="#333"/><circle cx="640.64" cy="650.83" r="0.79" fill="#333"/><circle cx="661.23" cy="656.75" r="0.56" fill="#666"/><circle cx="673.05" cy="667.66" r="0.43" fill="#888"/><circle cx="698.92" cy="677.08" r="0.61" fill="#999"/><circle cx="674.28" cy="650.77" r="0.83" fill="#555"/><circle cx="681.95" cy="652.3" r="0.52" fill="#999"/><circle cx="629.49" cy="652.42" r="0.53" fill="#888"/><circle cx="675.46" cy="672.79" r="0.59" fill="#666"/><circle cx="654.97" cy="670.84" r="0.8" fill="#333"/><circle cx="652.83" cy="655.54" r="0.65" fill="#888"/><circle cx="617.55" cy="654.74" r="0.47" fill="#888"/><circle cx="625.97" cy="651.46" r="0.72" fill="#333"/><circle cx="669.29" cy="653.91" r="0.55" fill="#666"/><circle cx="624.64" cy="657.19" r="0.53" fill="#888"/><circle cx="676.18" cy="653.79" r="0.58" fill="#999"/><circle cx="635.36" cy="675.2" r="0.63" fill="#999"/><circle cx="673.83" cy="654.46" r="0.65" fill="#666"/><circle cx="691.09" cy="653.19" r="0.71" fill="#333"/><circle cx="602.86" cy="677.73" r="0.63" fill="#555"/><circle cx="648.18" cy="653.15" r="0.74" fill="#555"/><circle cx="630.42" cy="667.11" r="1.19" fill="#1a1a1a"/><circle cx="707.74" cy="664.85" r="0.5" fill="#888"/><circle cx="610.19" cy="664.95" r="0.66" fill="#444"/><circle cx="634.04" cy="660.88" r="1.11" fill="#1a1a1a"/><circle cx="666.7" cy="672.54" r="0.6" fill="#777"/><circle cx="613.53" cy="650.47" r="0.65" fill="#888"/><circle cx="639.2" cy="679.81" r="0.67" fill="#999"/><circle cx="609.44" cy="672.17" r="0.79" fill="#555"/><circle cx="618.67" cy="675.52" r="0.71" fill="#444"/><circle cx="701.01" cy="675.91" r="0.62" fill="#333"/><circle cx="661.49" cy="669.33" r="0.61" fill="#777"/><circle cx="703.83" cy="665.12" r="0.45" fill="#888"/><circle cx="665.49" cy="669.27" r="0.67" fill="#333"/><circle cx="647.64" cy="680.05" r="1.02" fill="#1a1a1a"/><circle cx="647.22" cy="655.59" r="0.4" fill="#666"/><circle cx="614.03" cy="651.86" r="1.28" fill="#1a1a1a"/><circle cx="697.75" cy="651.57" r="1.38" fill="#1a1a1a"/><circle cx="617.74" cy="672.36" r="0.6" fill="#444"/><circle cx="673.63" cy="667.42" r="0.56" fill="#666"/><circle cx="645.98" cy="666.39" r="0.45" fill="#666"/><circle cx="705.72" cy="669.06" r="0.42" fill="#888"/><circle cx="666.22" cy="658.93" r="0.69" fill="#666"/><circle cx="671.53" cy="653.9" r="0.56" fill="#777"/><circle cx="692.99" cy="656.59" r="0.61" fill="#999"/><circle cx="671.97" cy="661.28" r="0.52" fill="#999"/><circle cx="661.26" cy="662.05" r="1.07" fill="#1a1a1a"/><circle cx="697.68" cy="666.81" r="1.34" fill="#1a1a1a"/><circle cx="626.39" cy="652.58" r="0.48" fill="#666"/><circle cx="623.42" cy="663.99" r="0.61" fill="#777"/><circle cx="693.37" cy="670.94" r="0.44" fill="#777"/><circle cx="668.18" cy="679.76" r="0.54" fill="#666"/><circle cx="658.96" cy="679.99" r="0.74" fill="#333"/><circle cx="613.32" cy="673.97" r="1.09" fill="#1a1a1a"/><circle cx="639.7" cy="650.08" r="0.46" fill="#888"/><circle cx="611.5" cy="653.86" r="0.43" fill="#999"/><circle cx="661.05" cy="678.41" r="0.45" fill="#888"/><circle cx="688.06" cy="672.71" r="1.1" fill="#1a1a1a"/><circle cx="624.8" cy="665.71" r="0.51" fill="#666"/><circle cx="602.87" cy="668.56" r="1.22" fill="#1a1a1a"/><circle cx="687.94" cy="653.15" r="0.6" fill="#888"/><circle cx="637.69" cy="671.39" r="1.4" fill="#1a1a1a"/><circle cx="647.27" cy="674.44" r="0.42" fill="#888"/><circle cx="618.75" cy="667" r="0.81" fill="#555"/><circle cx="691.66" cy="668.07" r="0.9" fill="#555"/><circle cx="704.26" cy="650.03" r="0.65" fill="#444"/><circle cx="652.2" cy="650.59" r="0.42" fill="#666"/><circle cx="692.41" cy="679.98" r="0.53" fill="#999"/><circle cx="695.78" cy="668.78" r="1.13" fill="#1a1a1a"/><circle cx="622.23" cy="677.67" r="0.41" fill="#999"/><circle cx="689.75" cy="672.44" r="0.74" fill="#555"/><circle cx="633.21" cy="660.13" r="0.47" fill="#999"/><circle cx="649.45" cy="680.57" r="1.06" fill="#1a1a1a"/><circle cx="673.15" cy="658.16" r="0.75" fill="#555"/><circle cx="637.97" cy="667.61" r="0.44" fill="#777"/><circle cx="700.49" cy="677.94" r="1.08" fill="#1a1a1a"/><circle cx="645.74" cy="667.55" r="1.32" fill="#1a1a1a"/><circle cx="686.82" cy="657.07" r="0.44" fill="#777"/><circle cx="632.05" cy="673.57" r="0.55" fill="#999"/><circle cx="637.25" cy="666.89" r="0.62" fill="#555"/><circle cx="673.24" cy="677.35" r="0.55" fill="#999"/><circle cx="688.63" cy="680.89" r="0.66" fill="#444"/><circle cx="648.75" cy="663.59" r="0.49" fill="#999"/><circle cx="663.72" cy="654.12" r="0.48" fill="#888"/><circle cx="606.23" cy="655.57" r="0.58" fill="#888"/><circle cx="663.01" cy="680.61" r="0.83" fill="#555"/><circle cx="678.77" cy="678.55" r="0.5" fill="#999"/><circle cx="628.9" cy="657.69" r="1.07" fill="#1a1a1a"/><circle cx="628.02" cy="671.72" r="0.72" fill="#333"/><circle cx="698" cy="658.47" r="0.43" fill="#999"/><circle cx="680.2" cy="679.84" r="0.42" fill="#888"/><circle cx="678.53" cy="649.76" r="0.79" fill="#333"/><circle cx="669.67" cy="678.58" r="0.7" fill="#444"/><circle cx="601.03" cy="664.87" r="0.64" fill="#999"/><circle cx="604.43" cy="662.61" r="1.25" fill="#1a1a1a"/><circle cx="635.47" cy="665.12" r="0.48" fill="#666"/><circle cx="695.81" cy="650.41" r="0.8" fill="#555"/><circle cx="604.27" cy="668.88" r="0.5" fill="#777"/><circle cx="600.08" cy="656.21" r="0.65" fill="#888"/><circle cx="689.17" cy="662.89" r="0.58" fill="#999"/><circle cx="671.62" cy="668.49" r="0.82" fill="#555"/><circle cx="689.11" cy="664.6" r="1.26" fill="#1a1a1a"/><circle cx="670.98" cy="666.85" r="0.57" fill="#888"/><circle cx="656.61" cy="679.15" r="0.6" fill="#555"/><circle cx="609.18" cy="675.01" r="0.45" fill="#999"/><circle cx="642.89" cy="680.34" r="0.59" fill="#777"/><circle cx="604.74" cy="665.36" r="0.45" fill="#888"/><circle cx="680.61" cy="677.95" r="0.66" fill="#999"/><circle cx="657.19" cy="660.62" r="0.53" fill="#666"/><circle cx="621.87" cy="678.25" r="0.52" fill="#999"/><circle cx="634.27" cy="677.97" r="1.29" fill="#1a1a1a"/><circle cx="605.33" cy="669.87" r="0.86" fill="#333"/><circle cx="623.55" cy="661.41" r="0.51" fill="#999"/><circle cx="601.44" cy="650.25" r="0.47" fill="#888"/><circle cx="620.76" cy="673.44" r="0.49" fill="#666"/><circle cx="622.26" cy="667.48" r="0.86" fill="#555"/><circle cx="704.88" cy="653.89" r="0.63" fill="#333"/><circle cx="652.38" cy="677.58" r="0.8" fill="#444"/><circle cx="705.16" cy="656.26" r="1.31" fill="#1a1a1a"/><circle cx="693.35" cy="672.69" r="1.31" fill="#1a1a1a"/><circle cx="647.18" cy="663.25" r="0.88" fill="#444"/><circle cx="600.74" cy="653.1" r="0.4" fill="#888"/><circle cx="614.89" cy="672.71" r="1.07" fill="#1a1a1a"/><circle cx="674.47" cy="652.43" r="0.88" fill="#444"/><circle cx="642.43" cy="660.14" r="0.58" fill="#999"/><circle cx="686.72" cy="671.25" r="1.2" fill="#1a1a1a"/><circle cx="623.94" cy="663.12" r="1.01" fill="#1a1a1a"/><circle cx="708.97" cy="659.54" r="0.44" fill="#666"/><circle cx="706.71" cy="666.1" r="1.09" fill="#1a1a1a"/><circle cx="658.53" cy="669.48" r="0.7" fill="#888"/><circle cx="692.03" cy="679.66" r="1.39" fill="#1a1a1a"/><circle cx="693.56" cy="680.12" r="0.62" fill="#444"/><circle cx="617.85" cy="657.91" r="1.02" fill="#1a1a1a"/><circle cx="654.98" cy="662.42" r="0.51" fill="#777"/><circle cx="634.48" cy="650.9" r="0.48" fill="#888"/><circle cx="675.31" cy="680.45" r="0.62" fill="#666"/><circle cx="645.26" cy="666.56" r="0.65" fill="#555"/><circle cx="696.75" cy="674.84" r="0.59" fill="#999"/><circle cx="666.08" cy="678.69" r="0.78" fill="#555"/><circle cx="708.99" cy="675.52" r="0.43" fill="#777"/><circle cx="699.75" cy="651.15" r="0.5" fill="#666"/><circle cx="659.48" cy="659.51" r="0.4" fill="#666"/><circle cx="655.13" cy="668.2" r="0.47" fill="#666"/><circle cx="637.78" cy="651.61" r="0.48" fill="#888"/><circle cx="606.06" cy="674.64" r="0.68" fill="#888"/><circle cx="627.38" cy="676.01" r="0.5" fill="#666"/><circle cx="661.92" cy="680.98" r="1.3" fill="#1a1a1a"/><circle cx="638.78" cy="656.03" r="0.71" fill="#444"/><circle cx="617.3" cy="675.41" r="0.59" fill="#777"/><circle cx="634.06" cy="660.96" r="0.53" fill="#666"/><circle cx="615.23" cy="657.5" r="1.14" fill="#1a1a1a"/><circle cx="687.96" cy="665.97" r="0.43" fill="#666"/><circle cx="630.54" cy="663.61" r="1.25" fill="#1a1a1a"/><circle cx="679.84" cy="655.08" r="0.4" fill="#999"/><circle cx="639.1" cy="665.95" r="0.71" fill="#555"/><circle cx="687.77" cy="657.54" r="0.4" fill="#888"/><circle cx="604.47" cy="655.2" r="0.48" fill="#888"/><circle cx="626.63" cy="657.93" r="0.76" fill="#555"/><circle cx="694.2" cy="655.93" r="0.84" fill="#444"/><circle cx="685.48" cy="678.5" r="0.51" fill="#777"/><circle cx="677.8" cy="658.87" r="0.79" fill="#555"/><circle cx="637.46" cy="661.7" r="0.68" fill="#999"/><circle cx="707.5" cy="676.34" r="0.42" fill="#999"/><circle cx="634.9" cy="651.82" r="0.51" fill="#666"/><circle cx="653.62" cy="677.9" r="0.41" fill="#666"/><circle cx="702.73" cy="671.61" r="0.9" fill="#333"/><circle cx="697.72" cy="663.41" r="0.55" fill="#777"/><circle cx="673.08" cy="672.85" r="0.61" fill="#444"/><circle cx="630.93" cy="659.97" r="0.74" fill="#333"/><circle cx="622.72" cy="652.02" r="0.43" fill="#777"/><circle cx="692.99" cy="656.37" r="0.65" fill="#999"/><circle cx="677.64" cy="664.76" r="1.28" fill="#1a1a1a"/><circle cx="644.81" cy="667.94" r="0.65" fill="#999"/><circle cx="633.89" cy="655.57" r="0.46" fill="#888"/><circle cx="656.24" cy="652.32" r="0.8" fill="#555"/><circle cx="660.24" cy="665.64" r="0.62" fill="#555"/><circle cx="625.83" cy="661.54" r="0.76" fill="#555"/><circle cx="620.62" cy="651.24" r="0.51" fill="#666"/><circle cx="671.51" cy="671.89" r="0.88" fill="#555"/><circle cx="620.43" cy="678.47" r="0.42" fill="#888"/><circle cx="598.95" cy="651.72" r="0.65" fill="#777"/><circle cx="628.64" cy="674.6" r="0.81" fill="#444"/><circle cx="666.4" cy="662.35" r="0.46" fill="#999"/><circle cx="604.46" cy="663.22" r="0.41" fill="#777"/><circle cx="689.2" cy="665.21" r="1.29" fill="#1a1a1a"/><circle cx="680.57" cy="654.75" r="0.82" fill="#444"/><circle cx="631.03" cy="656.23" r="0.44" fill="#999"/><circle cx="655.82" cy="664.22" r="0.63" fill="#333"/><circle cx="644.45" cy="670.29" r="0.87" fill="#444"/><circle cx="645.55" cy="676.86" r="0.44" fill="#999"/><circle cx="691.65" cy="658.82" r="0.77" fill="#555"/><circle cx="677.18" cy="672.19" r="0.68" fill="#444"/><circle cx="692.23" cy="654.37" r="0.69" fill="#666"/><circle cx="707.11" cy="659.89" r="0.69" fill="#444"/><circle cx="659.12" cy="652.54" r="0.62" fill="#666"/><circle cx="635.32" cy="662.2" r="1.14" fill="#1a1a1a"/><circle cx="671.64" cy="656.21" r="0.56" fill="#777"/><circle cx="630.56" cy="660.53" r="0.55" fill="#777"/><circle cx="620.46" cy="658.39" r="0.78" fill="#333"/><circle cx="620.55" cy="664.37" r="0.63" fill="#999"/><circle cx="662.82" cy="659.02" r="0.43" fill="#777"/><circle cx="636.56" cy="679.25" r="0.42" fill="#888"/><circle cx="637.23" cy="664.7" r="0.71" fill="#333"/><circle cx="686.23" cy="658.96" r="1.22" fill="#1a1a1a"/><circle cx="608.71" cy="666.92" r="0.58" fill="#666"/><circle cx="602.02" cy="650.84" r="0.52" fill="#999"/><circle cx="644.52" cy="675.89" r="1.29" fill="#1a1a1a"/><circle cx="680.24" cy="660.89" r="0.43" fill="#777"/><circle cx="692.34" cy="677.03" r="0.44" fill="#777"/><circle cx="609.93" cy="657.1" r="0.68" fill="#444"/><circle cx="611.17" cy="664.29" r="0.76" fill="#444"/><circle cx="626.7" cy="679.41" r="0.77" fill="#333"/><circle cx="699.74" cy="672.41" r="0.47" fill="#777"/><circle cx="599.69" cy="679.22" r="0.64" fill="#999"/><circle cx="675.16" cy="656.8" r="0.45" fill="#888"/><circle cx="709.79" cy="662.91" r="0.43" fill="#777"/><circle cx="607.44" cy="667.77" r="0.78" fill="#444"/><circle cx="677.61" cy="651.55" r="0.78" fill="#333"/><circle cx="602.62" cy="669.01" r="0.64" fill="#888"/><circle cx="607.41" cy="673.44" r="0.45" fill="#888"/><circle cx="703.31" cy="662.54" r="0.63" fill="#333"/><circle cx="614.58" cy="665.66" r="0.84" fill="#333"/><circle cx="620.82" cy="678.64" r="0.61" fill="#777"/><circle cx="709.7" cy="674.46" r="0.55" fill="#888"/><circle cx="699.71" cy="673.2" r="0.46" fill="#777"/><circle cx="692.72" cy="674.3" r="1.29" fill="#1a1a1a"/><circle cx="637.11" cy="654.69" r="0.6" fill="#666"/><circle cx="613.11" cy="675.61" r="0.67" fill="#666"/><circle cx="691.24" cy="674.79" r="0.53" fill="#888"/><circle cx="681.78" cy="668.24" r="0.59" fill="#777"/><circle cx="706.47" cy="674.33" r="0.85" fill="#333"/><circle cx="624.89" cy="668.05" r="0.66" fill="#777"/><circle cx="641.91" cy="674.21" r="0.6" fill="#888"/><circle cx="690.49" cy="662.36" r="1.26" fill="#1a1a1a"/><circle cx="691.66" cy="660.26" r="0.65" fill="#888"/><circle cx="598.5" cy="664.96" r="1.04" fill="#1a1a1a"/><circle cx="688.99" cy="662.75" r="0.54" fill="#888"/><circle cx="659.09" cy="652.21" r="0.74" fill="#333"/><circle cx="630.72" cy="652.36" r="0.81" fill="#555"/><circle cx="643.63" cy="666.5" r="0.66" fill="#444"/><circle cx="602.65" cy="675.44" r="0.68" fill="#333"/><circle cx="638.59" cy="656.64" r="0.58" fill="#666"/><circle cx="632.56" cy="659.6" r="0.64" fill="#999"/><circle cx="693.96" cy="680" r="0.6" fill="#333"/><circle cx="609.62" cy="657.32" r="0.6" fill="#888"/><circle cx="673.74" cy="680.51" r="0.63" fill="#666"/><circle cx="613.12" cy="673.25" r="0.72" fill="#444"/><circle cx="667.89" cy="663.54" r="0.51" fill="#666"/><circle cx="703.04" cy="674.99" r="1.26" fill="#1a1a1a"/><circle cx="653.25" cy="671.32" r="1.35" fill="#1a1a1a"/><circle cx="697.46" cy="653.34" r="0.69" fill="#444"/><circle cx="697.8" cy="672.49" r="0.41" fill="#888"/><circle cx="652.04" cy="649.82" r="0.48" fill="#999"/><circle cx="663.81" cy="667.71" r="1.16" fill="#1a1a1a"/><circle cx="681.71" cy="669.74" r="0.83" fill="#555"/><circle cx="684.56" cy="650.41" r="0.52" fill="#777"/><circle cx="688.15" cy="670.84" r="0.89" fill="#444"/><circle cx="638.35" cy="677.95" r="0.85" fill="#555"/><circle cx="690.5" cy="674.52" r="0.64" fill="#444"/><circle cx="688.43" cy="651.54" r="0.76" fill="#444"/><circle cx="632.94" cy="651.28" r="0.71" fill="#555"/><circle cx="705.76" cy="655.48" r="0.88" fill="#333"/><circle cx="667.52" cy="678.74" r="0.8" fill="#555"/><circle cx="642.12" cy="661.71" r="0.48" fill="#999"/><circle cx="701.69" cy="669.15" r="0.52" fill="#999"/><circle cx="685.21" cy="659.48" r="0.83" fill="#555"/><circle cx="672.07" cy="676.23" r="0.62" fill="#555"/><circle cx="638.63" cy="678.41" r="0.49" fill="#777"/><circle cx="627.09" cy="673.82" r="1.33" fill="#1a1a1a"/><circle cx="661.45" cy="660.7" r="0.48" fill="#999"/><circle cx="697.22" cy="677.09" r="1.24" fill="#1a1a1a"/><circle cx="690.77" cy="675.8" r="0.68" fill="#999"/><circle cx="670.21" cy="679.97" r="0.61" fill="#666"/><circle cx="642.18" cy="679.13" r="0.5" fill="#666"/><circle cx="653.98" cy="660.18" r="0.61" fill="#999"/><circle cx="657.56" cy="665.97" r="0.67" fill="#999"/><circle cx="621.86" cy="671.01" r="0.42" fill="#777"/><circle cx="693.42" cy="670.57" r="0.52" fill="#888"/><circle cx="685.94" cy="670.94" r="0.44" fill="#999"/><circle cx="673.21" cy="673.28" r="0.67" fill="#777"/><circle cx="681.22" cy="675.38" r="0.66" fill="#999"/><circle cx="670.51" cy="677.09" r="0.87" fill="#444"/><circle cx="605.54" cy="668.55" r="0.48" fill="#999"/><circle cx="699.24" cy="659.31" r="0.77" fill="#333"/><circle cx="638.29" cy="671.56" r="1.34" fill="#1a1a1a"/><circle cx="634.42" cy="649.71" r="0.44" fill="#888"/><circle cx="654.38" cy="680.29" r="0.58" fill="#777"/><circle cx="602.44" cy="675.58" r="1.09" fill="#1a1a1a"/><circle cx="668.5" cy="660.28" r="0.77" fill="#333"/><circle cx="660.34" cy="675.36" r="0.89" fill="#444"/><circle cx="658.15" cy="650.56" r="0.41" fill="#888"/><circle cx="645.48" cy="651.58" r="0.62" fill="#777"/><circle cx="642.82" cy="665.68" r="0.47" fill="#777"/><circle cx="688.07" cy="679.79" r="0.9" fill="#333"/><circle cx="669.88" cy="667.67" r="0.89" fill="#444"/><circle cx="667.18" cy="655.59" r="0.43" fill="#999"/><circle cx="629.65" cy="655.7" r="0.55" fill="#666"/><circle cx="685.07" cy="674.41" r="0.63" fill="#999"/><circle cx="660.75" cy="671.62" r="0.62" fill="#777"/><circle cx="701.03" cy="672.29" r="0.42" fill="#999"/><circle cx="644.81" cy="675.83" r="0.62" fill="#888"/><circle cx="660.47" cy="669.31" r="0.49" fill="#888"/><circle cx="632.24" cy="650.99" r="0.71" fill="#333"/><circle cx="688.1" cy="663.89" r="1.04" fill="#1a1a1a"/><circle cx="615.23" cy="674.01" r="0.7" fill="#888"/><circle cx="687.01" cy="664.55" r="0.44" fill="#777"/><circle cx="657.17" cy="657.49" r="0.71" fill="#444"/><circle cx="600.38" cy="678.14" r="0.68" fill="#666"/><circle cx="684.73" cy="672.39" r="0.87" fill="#555"/><circle cx="612.99" cy="650" r="0.78" fill="#555"/><circle cx="601.09" cy="675.13" r="0.43" fill="#777"/><circle cx="620.84" cy="667.59" r="0.66" fill="#888"/><circle cx="667.95" cy="677.4" r="0.59" fill="#999"/><circle cx="598.82" cy="656.02" r="0.86" fill="#333"/><circle cx="664.22" cy="653.56" r="0.74" fill="#444"/><circle cx="701.09" cy="671.12" r="0.63" fill="#777"/><circle cx="694.51" cy="654.91" r="0.66" fill="#999"/><circle cx="678.28" cy="664.34" r="0.58" fill="#777"/><circle cx="699.81" cy="668.41" r="1.1" fill="#1a1a1a"/><circle cx="708.53" cy="656.78" r="0.84" fill="#333"/><circle cx="669" cy="672.89" r="1.04" fill="#1a1a1a"/><circle cx="707.33" cy="674.81" r="1.02" fill="#1a1a1a"/><circle cx="624.93" cy="678.82" r="0.8" fill="#444"/><circle cx="669.53" cy="678.47" r="0.65" fill="#333"/><circle cx="651.63" cy="679.63" r="0.66" fill="#777"/><circle cx="618.94" cy="674.94" r="0.75" fill="#333"/><circle cx="655.1" cy="679.64" r="0.86" fill="#333"/><circle cx="693.36" cy="667.06" r="0.55" fill="#777"/><circle cx="677.06" cy="670.37" r="0.54" fill="#777"/><circle cx="660.71" cy="656.15" r="0.75" fill="#555"/><circle cx="621.38" cy="671.84" r="0.6" fill="#777"/><circle cx="666.62" cy="652.31" r="0.6" fill="#777"/><circle cx="679.78" cy="676.28" r="0.43" fill="#888"/><circle cx="628.69" cy="659.31" r="0.75" fill="#444"/><circle cx="707.6" cy="673.74" r="1.03" fill="#1a1a1a"/><circle cx="610.73" cy="671.34" r="0.56" fill="#666"/><circle cx="708.18" cy="678.61" r="0.46" fill="#777"/><circle cx="700.24" cy="675.89" r="0.41" fill="#999"/><circle cx="693.2" cy="663.13" r="0.45" fill="#888"/><circle cx="647.47" cy="671.78" r="0.69" fill="#555"/><circle cx="601.18" cy="661.6" r="0.65" fill="#444"/><circle cx="671.46" cy="664.46" r="0.63" fill="#888"/><circle cx="628.71" cy="657.44" r="0.61" fill="#333"/><circle cx="658.92" cy="660.8" r="0.4" fill="#999"/><circle cx="697.66" cy="674.55" r="0.43" fill="#888"/><circle cx="645.6" cy="660.18" r="1.05" fill="#1a1a1a"/><circle cx="649.3" cy="656.24" r="1.27" fill="#1a1a1a"/><circle cx="625.44" cy="678.4" r="0.56" fill="#777"/><circle cx="670.55" cy="656.45" r="0.67" fill="#888"/><circle cx="646.32" cy="653.32" r="0.58" fill="#999"/><circle cx="675.35" cy="673.03" r="0.47" fill="#888"/><circle cx="705.59" cy="652.48" r="0.59" fill="#999"/><circle cx="671.48" cy="668.37" r="0.49" fill="#777"/><circle cx="679.72" cy="666.42" r="1.03" fill="#1a1a1a"/><circle cx="660.42" cy="672.28" r="0.55" fill="#888"/><circle cx="701.12" cy="663.73" r="0.48" fill="#666"/><circle cx="643.8" cy="671.25" r="0.82" fill="#333"/><circle cx="694.47" cy="664.06" r="0.66" fill="#555"/><circle cx="690.82" cy="656.7" r="0.64" fill="#888"/><circle cx="629.1" cy="649.91" r="0.87" fill="#333"/><circle cx="685.63" cy="670.38" r="0.68" fill="#333"/><circle cx="614.09" cy="652.65" r="0.51" fill="#777"/><circle cx="661.8" cy="656.61" r="1.01" fill="#1a1a1a"/><circle cx="693.49" cy="653.68" r="0.51" fill="#999"/><circle cx="613.5" cy="674.34" r="0.71" fill="#444"/><circle cx="672.28" cy="676.99" r="0.45" fill="#666"/><circle cx="702.41" cy="650.54" r="0.67" fill="#666"/><circle cx="693.55" cy="657.16" r="0.48" fill="#777"/><circle cx="603.66" cy="670.44" r="0.47" fill="#777"/></g>
<path d="M539.5 649.2H432.6C430 649.5 428.6 653 428.8 656.5C429.2 660 431.5 662 433 665C435 669 437.5 674 438 677.5C438.2 679.5 437.5 681 436 681H539.5Z" fill="none" stroke="#1c1c1c" stroke-width="1.25" stroke-linejoin="round" />
<path d="M598.0 649.2H705L703.8 662.5L709.2 681H598.0Z" fill="none" stroke="#1c1c1c" stroke-width="1.25" stroke-linejoin="round" />
<line x1="539.5" y1="649.2" x2="539.5" y2="681" stroke="#1c1c1c" stroke-width="2.6" stroke-linecap="butt"/>
<line x1="598" y1="649.2" x2="598" y2="681" stroke="#1c1c1c" stroke-width="2.6" stroke-linecap="butt"/>
<path d="M518.5 681V690H620V681Z" fill="none" stroke="#1c1c1c" stroke-width="1.4" stroke-linejoin="miter" />
<path d="M530.8 690V710Q530.8 712.8 533.6 712.8H604Q606.8 712.8 606.8 710V690" fill="none" stroke="#1c1c1c" stroke-width="1.4" stroke-linejoin="round" />
<path d="M531.5 690L552.5 698.8V690" fill="none" stroke="#1c1c1c" stroke-width="1.3" stroke-linejoin="miter" />
<path d="M616.5 690L606.8 698" fill="none" stroke="#1c1c1c" stroke-width="1.3" stroke-linejoin="round" />
<line x1="537.4" y1="685.5" x2="537.4" y2="723.5" stroke="#1c1c1c" stroke-width="1.4" stroke-linecap="butt"/>
<line x1="599.2" y1="685.5" x2="599.2" y2="723.5" stroke="#1c1c1c" stroke-width="1.4" stroke-linecap="butt"/>
<line x1="537.4" y1="718.7" x2="599.2" y2="718.7" stroke="#1c1c1c" stroke-width="1.4" stroke-linecap="butt"/>
<line x1="599.2" y1="718.7" x2="800" y2="718.7" stroke="#1c1c1c" stroke-width="1.4" stroke-linecap="butt"/>
<polygon points="537.4,718.7 514.2,723.5 514.2,713.9" fill="#1c1c1c" stroke="none" stroke-width="0"/>
<polygon points="599.2,718.7 622.4,713.9 622.4,723.5" fill="#1c1c1c" stroke="none" stroke-width="0"/>

<g stroke="#1c1c1c" stroke-width="1.4" stroke-linejoin="miter">
<path d="M356 339.5C350 318 300 307 265 310L263.6 306.2L252.6 321L267 332L268 326.4C300 323 340 329 353 341.6Z" fill="#fff"/>
<path d="M220.3 337C221 328 232 318 250.6 313.6L252.6 325.6L226 339.5Z" fill="#fff"/>
<path d="M220.3 337Q255 356.2 302.5 358.6L303.2 353.4L324 364.4L307.4 379.2L305.5 374.8Q257.5 376.1 220.3 354Z" fill="#1c1c1c"/>
<path d="M326 356C340 352.5 351 346.5 356 339.5V356.5C351 363 340 368 326 371.2Z" fill="#1c1c1c"/>
</g>
<g opacity="0.999"><text x="27" y="360" font-size="37" text-anchor="middle" fill="#0d0d0d" stroke="#0d0d0d" stroke-width="0.7" transform="rotate(-90 27 360)" >330</text>
<text x="92" y="426.5" font-size="37" text-anchor="middle" fill="#0d0d0d" stroke="#0d0d0d" stroke-width="0.7" transform="rotate(-90 92 426.5)" >255</text>
<text x="226" y="717.5" font-size="37" text-anchor="start" fill="#0d0d0d" stroke="#0d0d0d" stroke-width="0.7" textLength="132.3" lengthAdjust="spacingAndGlyphs">50 Max.</text>
<text x="369.3" y="600.8" font-size="37" text-anchor="middle" fill="#0d0d0d" stroke="#0d0d0d" stroke-width="0.7" >220</text>
<text x="126" y="164" font-size="37" text-anchor="middle" fill="#0d0d0d" stroke="#0d0d0d" stroke-width="0.7" transform="rotate(-77 126 164)" >24</text>
<text x="278" y="166" font-size="37" text-anchor="middle" fill="#0d0d0d" stroke="#0d0d0d" stroke-width="0.7" transform="rotate(51.5 278 166)" >R<tspan dx="-2"> </tspan>50</text>
<text x="487.4" y="188.9" font-size="37" text-anchor="middle" fill="#0d0d0d" stroke="#0d0d0d" stroke-width="0.7" transform="rotate(-42.2 487.4 188.9)" >R<tspan dx="-2.5"> </tspan>50</text>
<text x="330.2" y="237.8" font-size="37" text-anchor="middle" fill="#0d0d0d" stroke="#0d0d0d" stroke-width="0.7" >95º</text>
<text x="435.8" y="263.9" font-size="37" text-anchor="middle" fill="#0d0d0d" stroke="#0d0d0d" stroke-width="0.7" >98º</text>
<text font-size="39.4" text-anchor="middle" fill="#0d0d0d" stroke="#0d0d0d" stroke-width="0.7" transform="translate(292.3 299.9) scale(0.94 1)">180º</text>
<text x="385" y="451.5" font-size="37" text-anchor="middle" fill="#0d0d0d" stroke="#0d0d0d" stroke-width="0.7" transform="rotate(-62 385 451.5)" >45º</text>
<text x="506" y="352" font-size="37" text-anchor="middle" fill="#0d0d0d" stroke="#0d0d0d" stroke-width="0.7" transform="rotate(-18 506 352)" >45º</text>
<text x="622" y="311.2" font-size="37" text-anchor="start" fill="#0d0d0d" stroke="#0d0d0d" stroke-width="0.7" transform="rotate(12 622 311.2)" >6º</text>
<text x="675" y="615.8" font-size="37" text-anchor="middle" fill="#0d0d0d" stroke="#0d0d0d" stroke-width="0.7" >Ø 45</text>
<text x="760" y="706.2" font-size="37" text-anchor="middle" fill="#0d0d0d" stroke="#0d0d0d" stroke-width="0.7" >Ø 35</text></g>
</svg>
</body></html>
